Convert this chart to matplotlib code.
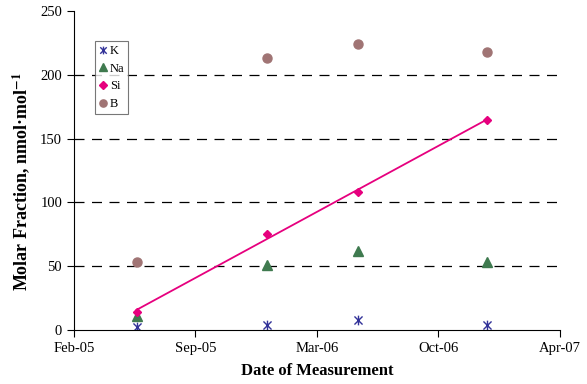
import numpy as np
import matplotlib
matplotlib.use('Agg')
import matplotlib.pyplot as plt
import matplotlib.dates as mdates
from matplotlib.path import Path
from datetime import date

plt.rcParams['font.family'] = ['Liberation Serif', 'DejaVu Serif']
plt.rcParams['mathtext.fontset'] = 'stix'

# measurement dates and molar fractions (nmol/mol)
dates = [date(2005, 5, 29), date(2005, 12, 29), date(2006, 5, 29), date(2006, 12, 27)]
K = [2.5, 3.5, 8, 4]
Na = [11, 51, 62, 53]
Si = [14, 75, 108, 165]
B = [53, 213, 224, 218]

x_start = date(2005, 2, 15)
tick_step = 200  # days
tick_labels = ['Feb-05', 'Sep-05', 'Mar-06', 'Oct-06', 'Apr-07']

xd = mdates.date2num(dates)

# Excel-style star: an X with a vertical bar
star = Path([(-1, -1), (1, 1), (-1, 1), (1, -1), (0, -1.2), (0, 1.2)],
            [Path.MOVETO, Path.LINETO, Path.MOVETO, Path.LINETO,
             Path.MOVETO, Path.LINETO])

fig = plt.figure(figsize=(5.87, 3.84), dpi=100)
ax = fig.add_axes([0.126, 0.141, 0.828, 0.830])

for yv in [50, 100, 150, 200]:
    ax.axhline(yv, color='black', lw=0.9, ls=(0, (8, 6)), zorder=0)

ax.plot(xd, K, ls='none', marker=star, ms=7, mew=1.0, mfc='none',
        color='#333399', label='K')
ax.plot(xd, Na, ls='none', marker='^', ms=6.5, color='#3f7a4f', label='Na')
ax.plot(xd, Si, ls='none', marker='D', ms=4.5, color='#e6007e', label='Si')
ax.plot(xd, B, ls='none', marker='o', ms=6.5, color='#a07474', label='B')

# linear trendline through the Si data
coef = np.polyfit(xd, Si, 1)
ax.plot([xd[0], xd[-1]], np.polyval(coef, [xd[0], xd[-1]]),
        color='#e6007e', lw=1.3)

x0 = mdates.date2num(x_start)
ticks = [x0 + i * tick_step for i in range(len(tick_labels))]
ax.set_xlim(ticks[0], ticks[-1])
ax.set_xticks(ticks)
ax.set_xticklabels(tick_labels)
ax.set_ylim(0, 250)
ax.set_yticks(range(0, 251, 50))

for s in ['top', 'right']:
    ax.spines[s].set_visible(False)
ax.tick_params(direction='out', length=5, labelsize=10.5)

ax.set_xlabel('Date of Measurement', fontsize=12, fontweight='bold', labelpad=6)
ax.set_ylabel(r'Molar Fraction, nmol·mol$^{\mathbf{-1}}$', fontsize=13,
              fontweight='bold')
ax.yaxis.set_label_coords(-0.085, 0.465)

leg = ax.legend(loc='upper left', bbox_to_anchor=(0.043, 0.905), fontsize=9,
                frameon=True, fancybox=False, handlelength=0.7,
                handletextpad=0.2, borderpad=0.3, labelspacing=0.45,
                borderaxespad=0, markerscale=0.8)
leg.get_frame().set_edgecolor('#555555')
leg.get_frame().set_linewidth(0.8)

fig.savefig('out.png', dpi=100)
